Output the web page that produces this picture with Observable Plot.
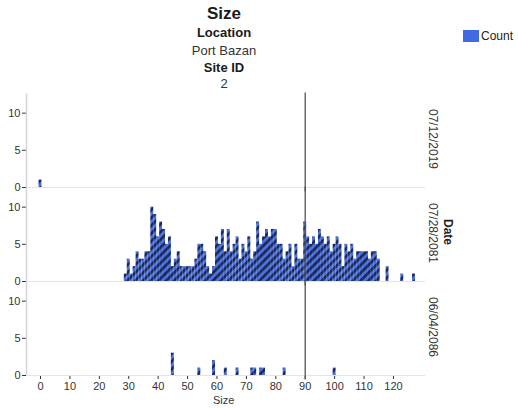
<!DOCTYPE html>
<html><head><meta charset="utf-8">
<script src="https://cdn.jsdelivr.net/npm/d3@7"></script>
<script src="https://cdn.jsdelivr.net/npm/@observablehq/plot@0.6"></script>
<style>
body{margin:0;background:#fff;font-family:"Liberation Sans",Arial,sans-serif}
#wrap{position:relative;width:518px;height:408px;overflow:hidden;background:#fff}
#wrap svg{position:absolute;left:0;top:0}
.t{position:absolute;left:124px;width:200px;text-align:center;color:#1a1a1a;white-space:nowrap;z-index:2}
</style></head><body>
<div id="wrap">
<div class="t" style="top:5px;font-size:17px;line-height:17px;font-weight:bold">Size</div>
<div class="t" style="top:26px;font-size:13px;line-height:13px;font-weight:bold">Location</div>
<div class="t" style="top:43.5px;font-size:13px;line-height:13px;color:#333">Port Bazan</div>
<div class="t" style="top:60.5px;font-size:13px;line-height:13px;font-weight:bold">Site ID</div>
<div class="t" style="top:76.5px;font-size:13px;line-height:13px;color:#333">2</div>
<div style="position:absolute;left:463px;top:30px;width:16px;height:12px;background:#4169e1;z-index:2"></div>
<div style="position:absolute;left:481px;top:30px;font-size:12px;line-height:12px;color:#222;z-index:2">Count</div>
<div style="position:absolute;left:213px;top:395px;width:20px;text-align:center;font-size:11px;line-height:11px;color:#333;z-index:2">Size</div>
<div style="position:absolute;left:428px;top:226px;width:40px;text-align:center;font-size:12px;line-height:12px;font-weight:bold;color:#222;transform:rotate(90deg);z-index:2">Date</div>
</div>
<script>
const dates = ["07/12/2019", "07/28/2081", "06/04/2086"];

const sizes2019 = [0];
const counts2019 = [1];

const sizes2081 = [29,30,31,32,33,34,35,36,37,38,39,40,41,42,43,44,45,46,47,48,49,50,51,52,53,54,55,56,57,58,59,60,61,62,63,64,65,66,67,68,69,70,71,72,73,74,75,76,77,78,79,80,81,82,83,84,85,86,87,88,89,90,91,92,93,94,95,96,97,98,99,100,101,102,103,104,105,106,107,108,109,110,111,112,113,114,115,118,123,127];
const counts2081 = [1,3,1,2,4,3,3,4,4,10,9,6,8,7,5,6,2,3,4,2,2,2,2,2,3,5,5,4,2,1,2,6,5,7,4,7,4,5,6,3,5,4,6,3,4,8,5,6,7,6,7,7,5,5,3,4,5,2,5,3,3,8,6,5,6,5,7,6,5,6,4,5,6,5,2,5,4,5,3,4,4,4,4,3,4,4,3,2,1,1];

const sizes2086 = [45,54,59,63,67,72,73,75,76,83,100];
const counts2086 = [3,1,2,1,1,1,1,1,1,1,1];

const xTicks = [0,10,20,30,40,50,60,70,80,90,100,110,120];
const yTicks = [0,5,10];
const refSize = [90];

const rows = [];
[[sizes2019, counts2019], [sizes2081, counts2081], [sizes2086, counts2086]].forEach(([s, c], i) => {
  s.forEach((v, j) => rows.push({date: dates[i], size: v, count: c[j]}));
});

const plot = Plot.plot({
  width: 518, height: 408,
  marginTop: 99, marginBottom: 31, marginLeft: 26, marginRight: 93,
  style: {fontFamily: "Liberation Sans, Arial, sans-serif", fontSize: "11px", color: "#333", background: "transparent"},
  x: {domain: [-4.76, 130.9], ticks: xTicks, tickSize: 4, tickPadding: 3, label: null},
  y: {domain: [0, 11.7], ticks: yTicks, tickSize: 4, tickPadding: 2, label: null},
  fy: {domain: dates, paddingInner: 0.07, paddingOuter: 0, axis: null, label: null},
  marks: [
    Plot.ruleY([0], {stroke: "#e4e4e4"}),
    Plot.rectY(rows, {
      fy: "date",
      x1: d => d.size - 0.5,
      x2: d => d.size + 0.5,
      y: "count",
      fill: "url(#hatch)"
    }),
    Plot.ruleX(refSize, {y1: -0.6, y2: 12.7, stroke: "#555", strokeWidth: 1.3}),
    Plot.ruleX([-4.76], {y1: 0, y2: 12.6, stroke: "#d4d4d4", strokeWidth: 1.5}),
    Plot.text(dates, {
      fy: d => d, text: d => d, frameAnchor: "right", dx: 7, dy: -5,
      rotate: 90, textAnchor: "middle", lineAnchor: "middle", fontSize: 12, fill: "#333"
    })
  ]
});

const ns = "http://www.w3.org/2000/svg";
const defs = document.createElementNS(ns, "defs");
defs.innerHTML = '<pattern id="hatch" patternUnits="userSpaceOnUse" width="5.5" height="5.5" patternTransform="rotate(45)"><rect width="5.5" height="5.5" fill="#4a70dc"/><rect width="2.6" height="5.5" fill="#1a2654"/></pattern>';
plot.insertBefore(defs, plot.firstChild);
plot.querySelectorAll('[aria-label="y-axis tick"], [aria-label="x-axis tick"]').forEach(g => g.setAttribute("stroke", "#bbb"));
document.getElementById("wrap").appendChild(plot);
</script>
</body></html>
